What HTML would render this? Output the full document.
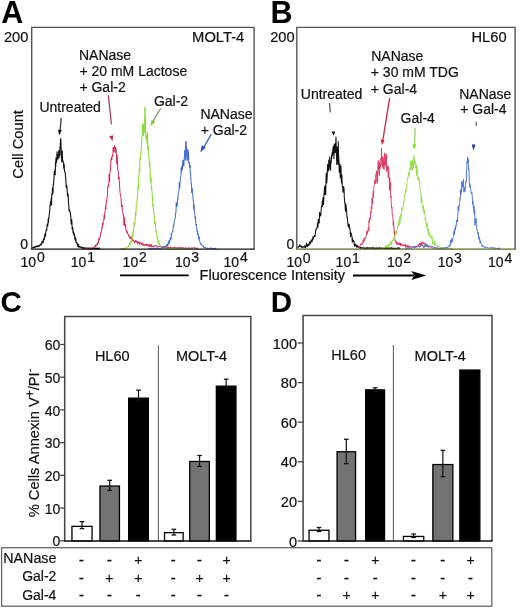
<!DOCTYPE html>
<html><head><meta charset="utf-8"><style>
html,body{margin:0;padding:0;background:#fff;}
body{width:520px;height:608px;overflow:hidden;font-family:"Liberation Sans", sans-serif;}
svg{display:block;will-change:transform;}
</style></head><body>
<svg width="520" height="608" viewBox="0 0 520 608" font-family='"Liberation Sans", sans-serif'>
<rect width="520" height="608" fill="#ffffff"/>
<text x="1.2" y="22.5" font-size="30.5" text-anchor="start" font-weight="bold" fill="#000" >A</text>
<path d="M32.00,248.3 L32.25,247.5 L32.50,247.5 L32.75,247.9 L33.00,247.6 L33.25,247.6 L33.50,247.3 L33.75,247.1 L34.00,247.7 L34.25,247.6 L34.50,246.8 L34.75,247.1 L35.00,246.7 L35.25,247.3 L35.50,246.8 L35.75,246.4 L36.00,246.8 L36.25,246.0 L36.50,246.0 L36.75,246.8 L37.00,246.7 L37.25,246.1 L37.50,246.0 L37.75,246.6 L38.00,246.2 L38.25,245.6 L38.50,245.7 L38.75,245.9 L39.00,246.6 L39.25,245.5 L39.50,245.6 L39.75,245.0 L40.00,245.1 L40.25,244.3 L40.50,244.9 L40.75,244.5 L41.00,243.9 L41.25,245.0 L41.50,244.2 L41.75,243.9 L42.00,241.3 L42.25,242.8 L42.50,241.6 L42.75,241.2 L43.00,241.6 L43.25,242.4 L43.50,239.1 L43.75,240.0 L44.00,238.0 L44.25,239.8 L44.50,238.0 L44.75,235.0 L45.00,233.8 L45.25,236.7 L45.50,235.9 L45.75,233.0 L46.00,230.8 L46.25,230.6 L46.50,229.2 L46.75,230.2 L47.00,226.3 L47.25,224.0 L47.50,225.5 L47.75,226.0 L48.00,223.3 L48.25,218.8 L48.50,222.4 L48.75,217.4 L49.00,217.8 L49.25,214.3 L49.50,212.8 L49.75,210.5 L50.00,205.1 L50.25,205.9 L50.50,201.7 L50.75,203.5 L51.00,202.5 L51.25,198.3 L51.50,205.0 L51.75,195.5 L52.00,193.0 L52.25,195.0 L52.50,188.1 L52.75,189.2 L53.00,192.9 L53.25,184.2 L53.50,184.6 L53.75,181.3 L54.00,178.3 L54.25,171.9 L54.50,173.7 L54.75,172.4 L55.00,169.2 L55.25,174.7 L55.50,161.8 L55.75,166.4 L56.00,157.9 L56.25,162.3 L56.50,162.3 L56.75,160.6 L57.00,151.9 L57.25,155.2 L57.50,158.9 L57.75,156.8 L58.00,159.2 L58.25,154.4 L58.50,155.8 L58.75,150.5 L59.00,157.7 L59.25,153.7 L59.50,155.3 L59.75,154.3 L60.00,147.1 L60.25,145.4 L60.50,140.0 L60.75,138.6 L61.00,143.6 L61.25,157.3 L61.50,152.5 L61.75,162.0 L62.00,156.8 L62.25,150.7 L62.50,159.4 L62.75,161.3 L63.00,160.7 L63.25,162.6 L63.50,164.1 L63.75,168.3 L64.00,163.7 L64.25,166.0 L64.50,171.5 L64.75,171.5 L65.00,172.3 L65.25,173.0 L65.50,177.0 L65.75,178.0 L66.00,183.0 L66.25,187.4 L66.50,187.7 L66.75,185.3 L67.00,187.5 L67.25,191.9 L67.50,195.9 L67.75,195.5 L68.00,193.9 L68.25,196.8 L68.50,204.1 L68.75,204.4 L69.00,209.8 L69.25,210.8 L69.50,209.5 L69.75,211.7 L70.00,211.4 L70.25,212.5 L70.50,215.1 L70.75,215.8 L71.00,221.2 L71.25,223.9 L71.50,222.2 L71.75,219.6 L72.00,225.3 L72.25,229.3 L72.50,228.2 L72.75,227.5 L73.00,232.6 L73.25,230.9 L73.50,234.1 L73.75,232.3 L74.00,234.1 L74.25,235.7 L74.50,234.4 L74.75,238.3 L75.00,239.4 L75.25,237.2 L75.50,241.0 L75.75,238.3 L76.00,241.3 L76.25,242.9 L76.50,242.4 L76.75,242.8 L77.00,243.2 L77.25,244.0 L77.50,243.4 L77.75,246.5 L78.00,245.5 L78.25,245.6 L78.50,244.4 L78.75,247.3 L79.00,246.4 L79.25,247.2 L79.50,246.3 L79.75,246.6 L80.00,246.9 L80.25,246.6 L80.50,247.0 L80.75,247.4 L81.00,247.6 L81.25,247.2 L81.50,247.7 L81.75,247.6 L82.00,247.8 L82.25,247.4 L82.50,247.4 L82.75,248.4 L83.00,248.3 L83.25,248.2 L83.50,247.6 L83.75,247.9 L84.00,248.3 L84.25,248.5 L84.50,248.1 L84.75,247.9 L85.00,247.9 L85.25,248.5 L85.50,248.0 L85.75,248.2 L86.00,248.4 L86.25,247.9 L86.50,248.7 L86.75,248.2 L87.00,248.8 L87.25,248.8 L87.50,248.0 L87.75,248.7 L88.00,248.2 L88.25,248.4 L88.50,248.1 L88.75,248.6 L89.00,248.6 L89.25,248.7 L89.50,248.1 L89.75,248.4 L90.00,248.1 L90.25,248.1 L90.50,248.9 L90.75,248.5 L91.00,248.9 L91.25,249.0 L91.50,248.9 L91.75,248.1 L92.00,248.2 L92.25,248.2 L92.50,248.7 L92.75,248.4 L93.00,248.2 L93.25,248.6 L93.50,248.4 L93.75,248.8 L94.00,248.9 L94.25,248.7 L94.50,248.1 L94.75,248.4 L95.00,248.1 L95.25,248.6 L95.50,248.7 L95.75,248.2 L96.00,248.2 L96.25,249.0 L96.50,248.3 L96.75,248.9 L97.00,248.9 L97.25,248.1 L97.50,249.0 L97.75,248.8 L98.00,248.0 L98.25,248.6 L98.50,248.9 L98.75,248.8 L99.00,248.8 L99.25,248.3 L99.50,248.9 L99.75,248.1 L100.00,248.6" fill="none" stroke="#111111" stroke-width="1.1" stroke-linejoin="round" opacity="1"/>
<path d="M85.00,248.0 L85.25,248.0 L85.50,248.9 L85.75,248.9 L86.00,248.1 L86.25,248.2 L86.50,248.3 L86.75,248.7 L87.00,248.3 L87.25,248.3 L87.50,248.4 L87.75,248.8 L88.00,248.5 L88.25,248.5 L88.50,248.2 L88.75,247.9 L89.00,247.9 L89.25,248.3 L89.50,248.4 L89.75,248.5 L90.00,248.8 L90.25,248.7 L90.50,248.3 L90.75,248.4 L91.00,248.3 L91.25,247.7 L91.50,248.0 L91.75,247.9 L92.00,248.2 L92.25,248.3 L92.50,248.0 L92.75,248.1 L93.00,247.6 L93.25,247.0 L93.50,247.2 L93.75,247.5 L94.00,246.6 L94.25,246.6 L94.50,246.5 L94.75,246.1 L95.00,246.0 L95.25,245.7 L95.50,247.2 L95.75,244.7 L96.00,245.3 L96.25,245.4 L96.50,244.9 L96.75,245.7 L97.00,245.0 L97.25,243.4 L97.50,245.0 L97.75,242.5 L98.00,243.7 L98.25,241.5 L98.50,242.0 L98.75,238.5 L99.00,238.5 L99.25,239.4 L99.50,240.2 L99.75,238.2 L100.00,236.5 L100.25,236.8 L100.50,234.2 L100.75,232.3 L101.00,232.7 L101.25,232.2 L101.50,229.3 L101.75,229.8 L102.00,226.9 L102.25,227.5 L102.50,223.1 L102.75,225.0 L103.00,225.0 L103.25,221.7 L103.50,221.6 L103.75,220.8 L104.00,217.9 L104.25,214.7 L104.50,218.9 L104.75,213.2 L105.00,211.8 L105.25,210.2 L105.50,206.5 L105.75,209.4 L106.00,203.3 L106.25,203.6 L106.50,201.0 L106.75,200.0 L107.00,198.4 L107.25,197.1 L107.50,192.8 L107.75,186.6 L108.00,187.3 L108.25,185.8 L108.50,184.5 L108.75,185.4 L109.00,180.4 L109.25,174.2 L109.50,181.7 L109.75,173.6 L110.00,171.0 L110.25,171.2 L110.50,167.7 L110.75,163.9 L111.00,159.4 L111.25,160.3 L111.50,157.4 L111.75,159.8 L112.00,156.5 L112.25,157.0 L112.50,155.2 L112.75,156.2 L113.00,151.2 L113.25,147.4 L113.50,151.7 L113.75,149.5 L114.00,147.5 L114.25,148.9 L114.50,145.4 L114.75,147.5 L115.00,152.5 L115.25,152.6 L115.50,147.6 L115.75,149.0 L116.00,148.8 L116.25,153.2 L116.50,155.2 L116.75,162.8 L117.00,155.4 L117.25,165.0 L117.50,161.2 L117.75,170.3 L118.00,171.3 L118.25,171.4 L118.50,175.7 L118.75,179.1 L119.00,177.2 L119.25,180.5 L119.50,183.9 L119.75,188.4 L120.00,192.2 L120.25,193.7 L120.50,196.2 L120.75,197.3 L121.00,197.6 L121.25,202.0 L121.50,205.5 L121.75,207.0 L122.00,204.8 L122.25,209.0 L122.50,210.6 L122.75,212.2 L123.00,213.2 L123.25,215.6 L123.50,215.1 L123.75,217.2 L124.00,225.1 L124.25,221.5 L124.50,217.3 L124.75,225.7 L125.00,224.5 L125.25,224.0 L125.50,226.7 L125.75,225.6 L126.00,230.4 L126.25,231.2 L126.50,230.4 L126.75,232.0 L127.00,233.1 L127.25,231.5 L127.50,232.6 L127.75,233.5 L128.00,234.6 L128.25,234.3 L128.50,235.3 L128.75,236.5 L129.00,235.4 L129.25,236.0 L129.50,236.7 L129.75,236.4 L130.00,238.8 L130.25,238.0 L130.50,238.7 L130.75,236.9 L131.00,238.1 L131.25,236.7 L131.50,237.5 L131.75,239.7 L132.00,240.7 L132.25,239.3 L132.50,240.2 L132.75,240.3 L133.00,241.3 L133.25,239.8 L133.50,240.4 L133.75,240.3 L134.00,240.6 L134.25,241.9 L134.50,243.2 L134.75,241.5 L135.00,242.0 L135.25,242.0 L135.50,240.7 L135.75,241.8 L136.00,240.5 L136.25,241.8 L136.50,241.4 L136.75,241.7 L137.00,241.5 L137.25,243.4 L137.50,241.5 L137.75,242.4 L138.00,243.4 L138.25,242.2 L138.50,242.5 L138.75,241.8 L139.00,242.4 L139.25,242.8 L139.50,244.4 L139.75,241.9 L140.00,242.1 L140.25,242.8 L140.50,243.1 L140.75,242.6 L141.00,244.3 L141.25,243.1 L141.50,243.7 L141.75,244.6 L142.00,243.6 L142.25,243.7 L142.50,242.8 L142.75,243.4 L143.00,245.3 L143.25,245.7 L143.50,244.4 L143.75,244.5 L144.00,245.1 L144.25,245.5 L144.50,244.7 L144.75,245.4 L145.00,245.1 L145.25,244.1 L145.50,244.6 L145.75,245.4 L146.00,245.7 L146.25,245.1 L146.50,243.9 L146.75,245.4 L147.00,244.0 L147.25,245.7 L147.50,245.4 L147.75,244.8 L148.00,245.8 L148.25,245.3 L148.50,246.3 L148.75,245.1 L149.00,244.8 L149.25,246.0 L149.50,245.5 L149.75,245.9 L150.00,247.0 L150.25,244.1 L150.50,245.4 L150.75,245.4 L151.00,245.7 L151.25,245.8 L151.50,244.6 L151.75,247.1 L152.00,246.2 L152.25,246.3 L152.50,246.2 L152.75,245.8 L153.00,246.6 L153.25,247.0 L153.50,246.9 L153.75,246.1 L154.00,245.8 L154.25,246.0 L154.50,245.6 L154.75,246.4 L155.00,246.0 L155.25,245.8 L155.50,246.3 L155.75,245.7 L156.00,246.2 L156.25,245.9 L156.50,246.3 L156.75,245.7 L157.00,246.0 L157.25,246.2 L157.50,246.7 L157.75,246.4 L158.00,246.8 L158.25,246.3 L158.50,246.0 L158.75,246.8 L159.00,246.5 L159.25,246.5 L159.50,246.6 L159.75,246.3 L160.00,246.1 L160.25,246.4 L160.50,246.7 L160.75,246.2 L161.00,246.9 L161.25,246.5 L161.50,246.6 L161.75,246.5 L162.00,246.4 L162.25,247.1 L162.50,246.7 L162.75,247.0 L163.00,246.7 L163.25,246.4 L163.50,246.8 L163.75,247.4 L164.00,247.0 L164.25,246.8 L164.50,246.6 L164.75,246.9 L165.00,246.7 L165.25,247.6 L165.50,246.6 L165.75,246.9 L166.00,247.0 L166.25,246.7 L166.50,246.8 L166.75,247.6 L167.00,246.9 L167.25,246.9 L167.50,247.5 L167.75,247.0 L168.00,247.2 L168.25,247.6 L168.50,247.0 L168.75,247.7 L169.00,247.2 L169.25,247.4 L169.50,247.6 L169.75,247.3 L170.00,247.4 L170.25,247.7 L170.50,246.9 L170.75,247.9 L171.00,248.0 L171.25,247.5 L171.50,247.1 L171.75,247.3 L172.00,247.2 L172.25,247.5 L172.50,247.4 L172.75,247.7 L173.00,247.8 L173.25,247.6 L173.50,248.1 L173.75,248.0 L174.00,247.4 L174.25,248.0 L174.50,247.4 L174.75,247.4 L175.00,247.8 L175.25,247.5 L175.50,247.4 L175.75,247.3 L176.00,248.1 L176.25,248.1 L176.50,247.8 L176.75,247.8 L177.00,248.0 L177.25,248.3 L177.50,247.7 L177.75,247.3 L178.00,247.9 L178.25,247.8 L178.50,247.9 L178.75,247.9 L179.00,247.4 L179.25,248.0 L179.50,247.7 L179.75,247.9 L180.00,247.8 L180.25,247.4 L180.50,248.3 L180.75,247.6 L181.00,248.1 L181.25,247.7 L181.50,247.6 L181.75,247.8 L182.00,248.0 L182.25,247.6 L182.50,248.4 L182.75,247.8 L183.00,248.1 L183.25,247.9 L183.50,247.6 L183.75,247.7 L184.00,247.9 L184.25,248.2 L184.50,248.3 L184.75,248.0 L185.00,248.3 L185.25,248.2 L185.50,247.6 L185.75,248.4 L186.00,247.7 L186.25,248.2 L186.50,248.2 L186.75,248.2 L187.00,248.5 L187.25,248.1 L187.50,248.4 L187.75,248.1 L188.00,248.3 L188.25,247.7 L188.50,247.7 L188.75,248.2 L189.00,248.0 L189.25,247.7 L189.50,248.3 L189.75,248.5 L190.00,248.4 L190.25,248.4 L190.50,248.0 L190.75,248.3 L191.00,248.3 L191.25,247.8 L191.50,248.4 L191.75,247.8 L192.00,248.0 L192.25,248.3 L192.50,247.8 L192.75,248.3 L193.00,247.8 L193.25,247.8 L193.50,248.2 L193.75,248.0 L194.00,247.7 L194.25,248.0 L194.50,247.9 L194.75,247.8 L195.00,247.8 L195.25,248.0 L195.50,247.7 L195.75,248.4 L196.00,248.1 L196.25,248.1 L196.50,248.4 L196.75,248.3 L197.00,248.6 L197.25,247.8 L197.50,248.4 L197.75,248.3 L198.00,247.9" fill="none" stroke="#d8234f" stroke-width="1.0" stroke-linejoin="round" opacity="1"/>
<path d="M120.00,248.8 L120.25,248.6 L120.50,248.7 L120.75,248.5 L121.00,248.5 L121.25,248.9 L121.50,249.0 L121.75,248.3 L122.00,248.7 L122.25,248.8 L122.50,248.1 L122.75,248.5 L123.00,248.2 L123.25,248.5 L123.50,248.4 L123.75,248.7 L124.00,248.3 L124.25,248.1 L124.50,248.3 L124.75,248.1 L125.00,248.1 L125.25,248.5 L125.50,247.9 L125.75,248.0 L126.00,248.1 L126.25,248.3 L126.50,247.5 L126.75,247.7 L127.00,247.4 L127.25,247.1 L127.50,247.0 L127.75,246.7 L128.00,246.9 L128.25,246.3 L128.50,246.4 L128.75,245.3 L129.00,246.6 L129.25,245.4 L129.50,245.1 L129.75,244.5 L130.00,242.4 L130.25,245.0 L130.50,242.8 L130.75,243.0 L131.00,240.9 L131.25,242.0 L131.50,239.8 L131.75,240.9 L132.00,239.4 L132.25,236.0 L132.50,237.6 L132.75,232.8 L133.00,235.3 L133.25,230.4 L133.50,231.3 L133.75,228.0 L134.00,225.1 L134.25,222.5 L134.50,225.4 L134.75,225.4 L135.00,221.9 L135.25,217.4 L135.50,212.2 L135.75,215.5 L136.00,212.3 L136.25,204.6 L136.50,204.5 L136.75,202.6 L137.00,201.0 L137.25,197.3 L137.50,198.0 L137.75,190.9 L138.00,187.3 L138.25,185.5 L138.50,189.4 L138.75,175.9 L139.00,175.8 L139.25,168.9 L139.50,169.3 L139.75,171.2 L140.00,158.4 L140.25,157.5 L140.50,159.3 L140.75,152.8 L141.00,153.2 L141.25,146.0 L141.50,145.2 L141.75,140.9 L142.00,136.6 L142.25,135.0 L142.50,124.6 L142.75,129.5 L143.00,132.1 L143.25,131.4 L143.50,135.7 L143.75,123.7 L144.00,133.2 L144.25,131.7 L144.50,118.5 L144.75,118.0 L145.00,107.2 L145.25,116.7 L145.50,125.6 L145.75,136.6 L146.00,139.0 L146.25,138.2 L146.50,135.4 L146.75,137.3 L147.00,141.4 L147.25,143.8 L147.50,132.2 L147.75,149.5 L148.00,147.7 L148.25,145.6 L148.50,151.8 L148.75,155.5 L149.00,158.0 L149.25,164.3 L149.50,166.8 L149.75,162.0 L150.00,167.8 L150.25,177.5 L150.50,174.7 L150.75,181.8 L151.00,178.1 L151.25,185.1 L151.50,188.7 L151.75,187.1 L152.00,192.5 L152.25,194.9 L152.50,200.3 L152.75,205.9 L153.00,204.4 L153.25,208.9 L153.50,208.4 L153.75,213.8 L154.00,213.3 L154.25,219.0 L154.50,220.7 L154.75,224.2 L155.00,221.4 L155.25,223.2 L155.50,227.0 L155.75,229.2 L156.00,232.0 L156.25,231.6 L156.50,230.8 L156.75,234.7 L157.00,235.1 L157.25,239.0 L157.50,237.4 L157.75,238.3 L158.00,239.5 L158.25,242.0 L158.50,240.0 L158.75,244.2 L159.00,242.4 L159.25,243.3 L159.50,243.6 L159.75,245.7 L160.00,246.4 L160.25,246.1 L160.50,245.8 L160.75,245.7 L161.00,246.4 L161.25,246.2 L161.50,246.5 L161.75,247.2 L162.00,247.3 L162.25,247.1 L162.50,247.4 L162.75,247.4 L163.00,247.9 L163.25,248.1 L163.50,248.1 L163.75,247.8 L164.00,248.3 L164.25,248.3 L164.50,248.3 L164.75,248.3 L165.00,248.4 L165.25,248.0 L165.50,248.7 L165.75,248.8 L166.00,248.1 L166.25,248.2 L166.50,248.1 L166.75,248.6 L167.00,248.2 L167.25,248.2 L167.50,248.8 L167.75,248.4 L168.00,248.3 L168.25,248.4 L168.50,248.6 L168.75,248.7 L169.00,248.7 L169.25,248.8 L169.50,248.9 L169.75,248.5 L170.00,248.8 L170.25,248.3 L170.50,249.0 L170.75,248.3 L171.00,248.4 L171.25,248.3 L171.50,248.3 L171.75,248.3 L172.00,248.5 L172.25,249.0 L172.50,248.4 L172.75,248.9 L173.00,248.8 L173.25,248.5 L173.50,248.6 L173.75,248.7 L174.00,248.3 L174.25,248.5 L174.50,248.7 L174.75,248.8 L175.00,248.3 L175.25,248.6 L175.50,248.4 L175.75,248.7 L176.00,248.8 L176.25,248.6 L176.50,248.3 L176.75,248.9 L177.00,248.4 L177.25,248.3 L177.50,248.4 L177.75,248.3 L178.00,249.0 L178.25,248.5 L178.50,248.3 L178.75,249.0 L179.00,248.8 L179.25,248.8 L179.50,248.6 L179.75,248.7 L180.00,248.6 L180.25,248.4 L180.50,249.0 L180.75,249.0 L181.00,248.9 L181.25,248.9 L181.50,248.9 L181.75,248.2 L182.00,248.3 L182.25,248.9 L182.50,248.6 L182.75,248.7 L183.00,248.7 L183.25,248.7 L183.50,248.5 L183.75,248.5 L184.00,248.7 L184.25,248.8 L184.50,248.7 L184.75,248.9 L185.00,248.6 L185.25,248.4 L185.50,248.7 L185.75,248.9 L186.00,248.9" fill="none" stroke="#86dc2c" stroke-width="1.0" stroke-linejoin="round" opacity="1"/>
<path d="M148.00,248.7 L148.25,248.9 L148.50,248.5 L148.75,248.8 L149.00,248.9 L149.25,248.5 L149.50,247.9 L149.75,248.0 L150.00,248.1 L150.25,248.7 L150.50,248.4 L150.75,248.7 L151.00,248.8 L151.25,248.9 L151.50,248.7 L151.75,247.9 L152.00,248.0 L152.25,248.0 L152.50,248.0 L152.75,248.8 L153.00,248.6 L153.25,248.2 L153.50,248.1 L153.75,248.0 L154.00,247.9 L154.25,248.9 L154.50,248.3 L154.75,248.2 L155.00,248.4 L155.25,248.8 L155.50,248.4 L155.75,248.9 L156.00,247.9 L156.25,247.9 L156.50,248.3 L156.75,248.6 L157.00,247.9 L157.25,248.3 L157.50,247.9 L157.75,247.9 L158.00,248.3 L158.25,248.4 L158.50,248.2 L158.75,248.4 L159.00,248.7 L159.25,248.5 L159.50,247.9 L159.75,248.7 L160.00,248.7 L160.25,248.0 L160.50,248.4 L160.75,248.1 L161.00,248.1 L161.25,248.2 L161.50,247.4 L161.75,248.3 L162.00,248.0 L162.25,248.2 L162.50,247.6 L162.75,247.9 L163.00,247.8 L163.25,247.2 L163.50,247.6 L163.75,247.2 L164.00,246.7 L164.25,247.5 L164.50,247.5 L164.75,247.1 L165.00,246.3 L165.25,246.3 L165.50,246.6 L165.75,246.3 L166.00,246.1 L166.25,245.6 L166.50,245.0 L166.75,245.4 L167.00,244.0 L167.25,246.2 L167.50,244.9 L167.75,246.4 L168.00,243.3 L168.25,243.5 L168.50,241.6 L168.75,243.0 L169.00,244.2 L169.25,240.3 L169.50,242.5 L169.75,241.9 L170.00,240.1 L170.25,238.4 L170.50,239.1 L170.75,237.5 L171.00,239.4 L171.25,233.8 L171.50,235.4 L171.75,234.2 L172.00,232.5 L172.25,232.2 L172.50,231.1 L172.75,231.8 L173.00,229.4 L173.25,227.2 L173.50,224.9 L173.75,225.7 L174.00,224.0 L174.25,222.2 L174.50,220.3 L174.75,219.6 L175.00,219.1 L175.25,218.1 L175.50,213.0 L175.75,213.2 L176.00,212.2 L176.25,202.4 L176.50,206.7 L176.75,205.0 L177.00,204.9 L177.25,206.1 L177.50,198.8 L177.75,200.1 L178.00,197.9 L178.25,193.4 L178.50,191.5 L178.75,191.8 L179.00,190.5 L179.25,182.5 L179.50,185.1 L179.75,188.1 L180.00,180.8 L180.25,180.9 L180.50,179.4 L180.75,175.6 L181.00,175.3 L181.25,167.8 L181.50,172.1 L181.75,170.3 L182.00,165.7 L182.25,170.0 L182.50,163.2 L182.75,165.5 L183.00,159.9 L183.25,165.8 L183.50,160.2 L183.75,166.3 L184.00,161.3 L184.25,158.7 L184.50,156.2 L184.75,150.2 L185.00,149.9 L185.25,160.4 L185.50,155.6 L185.75,142.9 L186.00,141.2 L186.25,148.7 L186.50,146.6 L186.75,157.1 L187.00,158.2 L187.25,160.6 L187.50,157.6 L187.75,149.3 L188.00,157.0 L188.25,159.8 L188.50,151.7 L188.75,163.1 L189.00,162.5 L189.25,163.4 L189.50,162.5 L189.75,167.9 L190.00,165.0 L190.25,173.4 L190.50,172.8 L190.75,176.1 L191.00,181.7 L191.25,184.3 L191.50,183.7 L191.75,192.8 L192.00,188.2 L192.25,190.4 L192.50,192.6 L192.75,195.6 L193.00,196.8 L193.25,201.0 L193.50,200.7 L193.75,208.8 L194.00,204.7 L194.25,211.2 L194.50,210.1 L194.75,214.4 L195.00,216.3 L195.25,219.1 L195.50,216.5 L195.75,223.3 L196.00,225.2 L196.25,224.2 L196.50,225.8 L196.75,227.7 L197.00,230.9 L197.25,231.8 L197.50,230.6 L197.75,234.9 L198.00,233.6 L198.25,234.7 L198.50,236.5 L198.75,239.3 L199.00,236.3 L199.25,239.4 L199.50,240.1 L199.75,241.5 L200.00,242.8 L200.25,242.7 L200.50,242.9 L200.75,244.4 L201.00,244.0 L201.25,243.7 L201.50,244.7 L201.75,245.5 L202.00,245.1 L202.25,245.6 L202.50,245.9 L202.75,246.2 L203.00,245.9 L203.25,246.3 L203.50,247.3 L203.75,246.5 L204.00,247.5 L204.25,247.5 L204.50,247.0 L204.75,247.6 L205.00,247.3 L205.25,248.1 L205.50,247.4 L205.75,248.3 L206.00,248.4 L206.25,248.0 L206.50,248.3 L206.75,248.1 L207.00,247.7 L207.25,247.9 L207.50,248.8 L207.75,248.5 L208.00,248.2 L208.25,248.3 L208.50,248.0 L208.75,248.3 L209.00,248.8 L209.25,248.6 L209.50,247.9 L209.75,248.5 L210.00,248.0 L210.25,247.8 L210.50,248.2 L210.75,248.2 L211.00,248.3 L211.25,248.6 L211.50,247.9 L211.75,248.4 L212.00,247.9 L212.25,248.6 L212.50,248.0 L212.75,248.1 L213.00,248.3 L213.25,248.5 L213.50,248.8 L213.75,248.1 L214.00,248.6 L214.25,248.2 L214.50,248.8 L214.75,248.9 L215.00,248.8 L215.25,248.0 L215.50,248.8 L215.75,247.9 L216.00,248.6" fill="none" stroke="#3a68d4" stroke-width="1.0" stroke-linejoin="round" opacity="1"/>
<path d="M31.7,249 L31.7,27.4 L254.1,27.4 L254.1,249" fill="none" stroke="#555" stroke-width="1.4"/>
<line x1="31" y1="249.1" x2="254.8" y2="249.1" stroke="#111" stroke-width="1.2" stroke-linecap="butt"/>
<text transform="translate(28.3,42.1) scale(1.045,1)" font-size="14" text-anchor="end" font-weight="normal" fill="#111" stroke="#111" stroke-width="0.2" >200</text>
<text x="28" y="249.4" font-size="14" text-anchor="end" font-weight="normal" fill="#111" stroke="#111" stroke-width="0.2" >0</text>
<text transform="translate(244.3,41.7) scale(1.055,1)" font-size="14" text-anchor="end" font-weight="normal" fill="#111" stroke="#111" stroke-width="0.2" >MOLT-4</text>
<text x="23" y="144.4" font-size="14.7" text-anchor="middle" fill="#111" stroke="#111" stroke-width="0.2" transform="rotate(-90 23 144.4)">Cell Count</text>
<text x="79" y="59.6" font-size="14" text-anchor="start" font-weight="normal" fill="#111" stroke="#111" stroke-width="0.2" >NANase</text>
<text x="79.4" y="75.9" font-size="14" text-anchor="start" font-weight="normal" fill="#111" stroke="#111" stroke-width="0.2" >+ 20 mM Lactose</text>
<text x="79.4" y="92.1" font-size="14" text-anchor="start" font-weight="normal" fill="#111" stroke="#111" stroke-width="0.2" >+ Gal-2</text>
<text x="39.4" y="111.5" font-size="14" text-anchor="start" font-weight="normal" fill="#111" stroke="#111" stroke-width="0.2" >Untreated</text>
<text x="153.9" y="105.6" font-size="14" text-anchor="start" font-weight="normal" fill="#111" stroke="#111" stroke-width="0.2" >Gal-2</text>
<text x="200.4" y="119.0" font-size="14" text-anchor="start" font-weight="normal" fill="#111" stroke="#111" stroke-width="0.2" >NANase</text>
<text x="200.7" y="135.1" font-size="14" text-anchor="start" font-weight="normal" fill="#111" stroke="#111" stroke-width="0.2" >+ Gal-2</text>
<line x1="61.1" y1="118.5" x2="60.1" y2="130.5" stroke="#444" stroke-width="1.4" stroke-linecap="round"/>
<path d="M59.3,135.4 L58.0,129.7 L61.8,130.1 Z" fill="#111"/>
<line x1="108.4" y1="95.6" x2="111.4" y2="124" stroke="#b03050" stroke-width="1.2" stroke-linecap="round"/>
<path d="M112.6,141.3 L109.3,136.3 L113.1,135.3 Z" fill="#c8203f"/>
<line x1="160.5" y1="108.6" x2="152.6" y2="122" stroke="#789860" stroke-width="1.2" stroke-linecap="round"/>
<path d="M150.4,126.2 L151.7,120.0 L155.1,122.0 Z" fill="#7ad020"/>
<line x1="211" y1="134.6" x2="203.6" y2="147.6" stroke="#4060c0" stroke-width="1.3" stroke-linecap="round"/>
<path d="M200.2,152.6 L201.9,145.3 L205.7,147.5 Z" fill="#2a48c0"/>
<text x="20.5" y="266.5" font-size="14" text-anchor="start" font-weight="normal" fill="#111" stroke="#111" stroke-width="0.2" >10</text>
<text x="36.9" y="262.3" font-size="14" text-anchor="start" font-weight="normal" fill="#111" stroke="#111" stroke-width="0.2" >0</text>
<text x="70.8" y="266.5" font-size="14" text-anchor="start" font-weight="normal" fill="#111" stroke="#111" stroke-width="0.2" >10</text>
<text x="87.19999999999999" y="262.3" font-size="14" text-anchor="start" font-weight="normal" fill="#111" stroke="#111" stroke-width="0.2" >1</text>
<text x="122.6" y="266.5" font-size="14" text-anchor="start" font-weight="normal" fill="#111" stroke="#111" stroke-width="0.2" >10</text>
<text x="139.0" y="262.3" font-size="14" text-anchor="start" font-weight="normal" fill="#111" stroke="#111" stroke-width="0.2" >2</text>
<text x="174.9" y="266.5" font-size="14" text-anchor="start" font-weight="normal" fill="#111" stroke="#111" stroke-width="0.2" >10</text>
<text x="191.3" y="262.3" font-size="14" text-anchor="start" font-weight="normal" fill="#111" stroke="#111" stroke-width="0.2" >3</text>
<text x="223.5" y="266.5" font-size="14" text-anchor="start" font-weight="normal" fill="#111" stroke="#111" stroke-width="0.2" >10</text>
<text x="239.9" y="262.3" font-size="14" text-anchor="start" font-weight="normal" fill="#111" stroke="#111" stroke-width="0.2" >4</text>
<line x1="120" y1="275.4" x2="188.7" y2="275.4" stroke="#000" stroke-width="1.7" stroke-linecap="butt"/>
<text transform="translate(199.6,280.3) scale(1.04,1)" font-size="14" text-anchor="start" font-weight="normal" fill="#111" stroke="#111" stroke-width="0.2" >Fluorescence Intensity</text>
<line x1="353" y1="275.5" x2="414" y2="275.5" stroke="#000" stroke-width="1.8" stroke-linecap="butt"/>
<path d="M426.2,275.5 L411.2,270.9 L414.6,275.5 L411.2,280.1 Z" fill="#000"/>
<text x="270.6" y="22.8" font-size="30.5" text-anchor="start" font-weight="bold" fill="#000" >B</text>
<path d="M297.50,247.9 L297.75,247.6 L298.00,246.8 L298.25,247.1 L298.50,246.5 L298.75,246.9 L299.00,246.1 L299.25,246.6 L299.50,245.1 L299.75,244.8 L300.00,245.6 L300.25,245.8 L300.50,246.0 L300.75,245.7 L301.00,246.3 L301.25,247.4 L301.50,246.3 L301.75,246.4 L302.00,246.8 L302.25,246.8 L302.50,247.3 L302.75,247.4 L303.00,246.7 L303.25,247.2 L303.50,246.9 L303.75,246.8 L304.00,247.0 L304.25,246.3 L304.50,246.2 L304.75,245.6 L305.00,247.7 L305.25,246.6 L305.50,247.6 L305.75,246.3 L306.00,246.8 L306.25,245.9 L306.50,243.1 L306.75,245.8 L307.00,244.9 L307.25,246.7 L307.50,245.6 L307.75,244.5 L308.00,245.1 L308.25,244.4 L308.50,244.5 L308.75,245.5 L309.00,243.6 L309.25,244.9 L309.50,241.7 L309.75,244.1 L310.00,242.4 L310.25,243.0 L310.50,241.5 L310.75,243.2 L311.00,240.8 L311.25,241.9 L311.50,239.7 L311.75,240.2 L312.00,240.5 L312.25,241.4 L312.50,238.8 L312.75,238.8 L313.00,236.5 L313.25,239.2 L313.50,237.2 L313.75,236.7 L314.00,236.6 L314.25,236.1 L314.50,235.6 L314.75,236.4 L315.00,236.6 L315.25,234.8 L315.50,232.2 L315.75,229.7 L316.00,230.0 L316.25,229.0 L316.50,228.8 L316.75,228.1 L317.00,228.4 L317.25,226.2 L317.50,223.0 L317.75,226.9 L318.00,226.9 L318.25,219.5 L318.50,222.7 L318.75,219.8 L319.00,219.0 L319.25,223.1 L319.50,212.6 L319.75,213.1 L320.00,216.3 L320.25,213.5 L320.50,214.1 L320.75,215.8 L321.00,212.3 L321.25,209.6 L321.50,206.0 L321.75,205.9 L322.00,206.6 L322.25,201.1 L322.50,206.5 L322.75,200.0 L323.00,197.5 L323.25,200.8 L323.50,204.6 L323.75,200.1 L324.00,194.7 L324.25,192.1 L324.50,186.9 L324.75,194.8 L325.00,189.6 L325.25,185.7 L325.50,187.3 L325.75,194.4 L326.00,180.5 L326.25,173.0 L326.50,176.7 L326.75,183.0 L327.00,179.6 L327.25,175.5 L327.50,164.6 L327.75,171.0 L328.00,171.8 L328.25,164.2 L328.50,169.9 L328.75,160.1 L329.00,170.0 L329.25,167.8 L329.50,161.3 L329.75,156.9 L330.00,161.1 L330.25,161.6 L330.50,170.2 L330.75,164.1 L331.00,162.7 L331.25,161.4 L331.50,155.4 L331.75,158.8 L332.00,152.7 L332.25,154.9 L332.50,155.2 L332.75,150.9 L333.00,148.0 L333.25,146.2 L333.50,153.8 L333.75,153.2 L334.00,158.6 L334.25,144.1 L334.50,144.5 L334.75,151.9 L335.00,151.9 L335.25,152.8 L335.50,143.2 L335.75,143.5 L336.00,137.0 L336.25,149.4 L336.50,155.8 L336.75,164.5 L337.00,146.7 L337.25,153.2 L337.50,162.5 L337.75,154.9 L338.00,164.2 L338.25,141.5 L338.50,153.6 L338.75,157.3 L339.00,162.0 L339.25,172.2 L339.50,164.4 L339.75,172.2 L340.00,164.1 L340.25,177.7 L340.50,173.8 L340.75,166.3 L341.00,166.2 L341.25,179.8 L341.50,183.0 L341.75,174.8 L342.00,176.7 L342.25,185.9 L342.50,186.6 L342.75,188.4 L343.00,192.1 L343.25,191.9 L343.50,186.6 L343.75,190.6 L344.00,187.5 L344.25,197.0 L344.50,199.0 L344.75,203.7 L345.00,202.6 L345.25,208.2 L345.50,211.4 L345.75,205.2 L346.00,204.6 L346.25,208.2 L346.50,208.4 L346.75,213.2 L347.00,217.5 L347.25,216.7 L347.50,219.5 L347.75,222.8 L348.00,225.6 L348.25,226.4 L348.50,224.0 L348.75,224.9 L349.00,227.6 L349.25,224.4 L349.50,228.4 L349.75,228.6 L350.00,228.4 L350.25,233.6 L350.50,236.8 L350.75,232.4 L351.00,236.0 L351.25,233.3 L351.50,235.8 L351.75,235.5 L352.00,236.7 L352.25,241.9 L352.50,238.2 L352.75,240.9 L353.00,241.6 L353.25,241.7 L353.50,240.6 L353.75,241.0 L354.00,241.4 L354.25,245.1 L354.50,244.2 L354.75,246.5 L355.00,244.4 L355.25,244.0 L355.50,245.7 L355.75,245.0 L356.00,245.4 L356.25,245.0 L356.50,246.8 L356.75,247.0 L357.00,247.1 L357.25,245.4 L357.50,246.3 L357.75,247.0 L358.00,247.2 L358.25,246.2 L358.50,247.5 L358.75,246.7 L359.00,247.0 L359.25,247.5 L359.50,246.9 L359.75,248.1 L360.00,248.0 L360.25,247.6 L360.50,248.3 L360.75,247.3 L361.00,248.1 L361.25,248.3 L361.50,248.5 L361.75,247.8 L362.00,248.0 L362.25,247.8 L362.50,247.8 L362.75,247.7 L363.00,247.5 L363.25,247.9 L363.50,248.5 L363.75,248.2 L364.00,248.6 L364.25,248.8 L364.50,248.2 L364.75,247.9 L365.00,248.7 L365.25,248.5 L365.50,248.5 L365.75,248.0 L366.00,248.2 L366.25,248.1 L366.50,247.9 L366.75,248.4 L367.00,247.9 L367.25,247.8 L367.50,248.9 L367.75,247.7 L368.00,248.0 L368.25,248.8 L368.50,248.4 L368.75,248.2 L369.00,247.8 L369.25,248.5 L369.50,248.2 L369.75,247.8 L370.00,247.9 L370.25,247.7 L370.50,248.4 L370.75,248.1 L371.00,248.7 L371.25,248.0 L371.50,247.9 L371.75,248.1 L372.00,248.0 L372.25,248.7 L372.50,247.8 L372.75,247.7 L373.00,247.7 L373.25,248.3 L373.50,247.9 L373.75,248.6 L374.00,247.8 L374.25,247.9 L374.50,248.5 L374.75,248.9 L375.00,248.4 L375.25,248.3 L375.50,248.0 L375.75,248.4 L376.00,249.0 L376.25,247.9 L376.50,248.9 L376.75,247.9 L377.00,248.8 L377.25,248.6 L377.50,248.0 L377.75,248.8 L378.00,248.8 L378.25,248.3 L378.50,248.0 L378.75,247.9 L379.00,248.1 L379.25,247.7 L379.50,248.3 L379.75,247.7 L380.00,248.9 L380.25,248.7 L380.50,248.3 L380.75,248.6 L381.00,248.0 L381.25,248.2 L381.50,248.3 L381.75,247.9 L382.00,248.3 L382.25,248.6 L382.50,248.5 L382.75,247.9 L383.00,247.8 L383.25,248.7 L383.50,247.9 L383.75,247.7 L384.00,248.3 L384.25,248.2 L384.50,248.7 L384.75,248.3 L385.00,248.3 L385.25,248.2 L385.50,249.0 L385.75,247.7 L386.00,248.3 L386.25,248.5 L386.50,247.9 L386.75,248.3 L387.00,248.3 L387.25,248.1 L387.50,248.9 L387.75,248.3 L388.00,248.5 L388.25,247.7 L388.50,247.8 L388.75,248.6 L389.00,248.4 L389.25,248.8 L389.50,248.4 L389.75,247.9 L390.00,247.8 L390.25,248.4 L390.50,248.6 L390.75,248.7 L391.00,248.2 L391.25,247.8 L391.50,248.8 L391.75,248.0 L392.00,249.0 L392.25,248.7 L392.50,248.7 L392.75,248.1 L393.00,248.6 L393.25,248.5 L393.50,248.2 L393.75,248.9 L394.00,248.0 L394.25,248.8 L394.50,248.3 L394.75,248.7 L395.00,248.7 L395.25,248.3 L395.50,248.4 L395.75,248.5 L396.00,248.5 L396.25,248.3 L396.50,248.8 L396.75,248.7 L397.00,248.2 L397.25,248.2 L397.50,248.3 L397.75,247.9 L398.00,248.2 L398.25,247.9 L398.50,248.7 L398.75,248.0 L399.00,247.9 L399.25,247.8 L399.50,248.6 L399.75,248.6 L400.00,247.8" fill="none" stroke="#111111" stroke-width="1.05" stroke-linejoin="round" opacity="1"/>
<path d="M357.00,247.7 L357.25,247.4 L357.50,247.3 L357.75,247.7 L358.00,247.7 L358.25,247.2 L358.50,247.2 L358.75,246.6 L359.00,246.5 L359.25,246.4 L359.50,247.7 L359.75,247.0 L360.00,245.9 L360.25,245.5 L360.50,245.0 L360.75,244.1 L361.00,243.9 L361.25,244.6 L361.50,243.6 L361.75,243.9 L362.00,244.9 L362.25,243.1 L362.50,243.5 L362.75,243.5 L363.00,240.5 L363.25,241.5 L363.50,242.6 L363.75,241.7 L364.00,238.0 L364.25,241.0 L364.50,239.1 L364.75,238.7 L365.00,238.3 L365.25,237.5 L365.50,238.5 L365.75,237.8 L366.00,236.6 L366.25,236.2 L366.50,233.4 L366.75,231.1 L367.00,234.7 L367.25,231.0 L367.50,233.0 L367.75,231.4 L368.00,229.4 L368.25,227.4 L368.50,227.4 L368.75,231.2 L369.00,220.4 L369.25,223.0 L369.50,222.4 L369.75,217.5 L370.00,219.2 L370.25,219.9 L370.50,212.9 L370.75,211.4 L371.00,213.3 L371.25,206.6 L371.50,206.2 L371.75,209.1 L372.00,198.2 L372.25,201.1 L372.50,204.0 L372.75,196.9 L373.00,196.2 L373.25,191.5 L373.50,197.9 L373.75,187.7 L374.00,186.3 L374.25,185.5 L374.50,184.2 L374.75,179.9 L375.00,180.6 L375.25,181.4 L375.50,183.7 L375.75,174.6 L376.00,173.8 L376.25,175.2 L376.50,174.6 L376.75,171.1 L377.00,183.4 L377.25,170.6 L377.50,181.5 L377.75,169.1 L378.00,164.8 L378.25,160.4 L378.50,169.8 L378.75,165.3 L379.00,166.8 L379.25,175.6 L379.50,162.3 L379.75,165.2 L380.00,164.4 L380.25,168.5 L380.50,164.3 L380.75,163.5 L381.00,158.0 L381.25,162.2 L381.50,148.0 L381.75,165.1 L382.00,164.4 L382.25,163.4 L382.50,166.7 L382.75,156.4 L383.00,160.2 L383.25,168.7 L383.50,162.6 L383.75,158.0 L384.00,169.4 L384.25,162.5 L384.50,164.2 L384.75,152.9 L385.00,161.4 L385.25,165.1 L385.50,165.9 L385.75,155.3 L386.00,165.9 L386.25,154.2 L386.50,171.5 L386.75,166.0 L387.00,166.9 L387.25,169.7 L387.50,168.4 L387.75,165.6 L388.00,172.6 L388.25,177.1 L388.50,167.0 L388.75,168.3 L389.00,178.9 L389.25,176.9 L389.50,190.4 L389.75,178.5 L390.00,190.0 L390.25,189.6 L390.50,182.3 L390.75,197.5 L391.00,195.8 L391.25,202.4 L391.50,207.9 L391.75,208.5 L392.00,207.1 L392.25,214.7 L392.50,215.5 L392.75,214.8 L393.00,220.1 L393.25,225.6 L393.50,221.5 L393.75,227.3 L394.00,227.0 L394.25,234.2 L394.50,231.1 L394.75,238.4 L395.00,240.6 L395.25,240.0 L395.50,241.3 L395.75,241.7 L396.00,243.4 L396.25,242.1 L396.50,241.5 L396.75,243.9 L397.00,244.8 L397.25,243.8 L397.50,242.5 L397.75,242.6 L398.00,244.0 L398.25,244.8 L398.50,243.8 L398.75,242.9 L399.00,244.7 L399.25,242.7 L399.50,243.9 L399.75,243.9 L400.00,245.0 L400.25,243.0 L400.50,244.4 L400.75,246.1 L401.00,243.8 L401.25,245.1 L401.50,243.7 L401.75,244.7 L402.00,245.5 L402.25,244.9 L402.50,245.5 L402.75,245.9 L403.00,245.2 L403.25,244.5 L403.50,245.3 L403.75,245.5 L404.00,246.0 L404.25,245.0 L404.50,245.4 L404.75,244.8 L405.00,245.4 L405.25,244.0 L405.50,247.2 L405.75,245.9 L406.00,245.5 L406.25,245.3 L406.50,247.3 L406.75,247.1 L407.00,246.2 L407.25,245.4 L407.50,245.4 L407.75,247.5 L408.00,246.2 L408.25,245.5 L408.50,246.4 L408.75,247.3 L409.00,247.1 L409.25,247.5 L409.50,245.7 L409.75,246.8 L410.00,247.0 L410.25,247.3 L410.50,246.8 L410.75,246.4 L411.00,246.5 L411.25,246.6 L411.50,246.8 L411.75,246.7 L412.00,246.5 L412.25,246.7 L412.50,246.9 L412.75,246.3 L413.00,246.7 L413.25,246.1 L413.50,246.4 L413.75,246.6 L414.00,246.2 L414.25,246.1 L414.50,246.6 L414.75,246.7 L415.00,246.3 L415.25,247.4 L415.50,246.2 L415.75,247.5 L416.00,246.4 L416.25,247.2 L416.50,246.8 L416.75,246.7 L417.00,246.8 L417.25,245.6 L417.50,246.6 L417.75,245.3 L418.00,245.5 L418.25,246.1 L418.50,245.2 L418.75,244.6 L419.00,244.0 L419.25,245.2 L419.50,243.1 L419.75,244.1 L420.00,243.3 L420.25,245.8 L420.50,245.3 L420.75,242.9 L421.00,244.3 L421.25,243.4 L421.50,242.6 L421.75,245.3 L422.00,243.2 L422.25,241.6 L422.50,242.8 L422.75,243.5 L423.00,243.0 L423.25,243.7 L423.50,242.9 L423.75,242.4 L424.00,244.1 L424.25,243.3 L424.50,243.7 L424.75,243.4 L425.00,243.4 L425.25,245.5 L425.50,243.4 L425.75,243.9 L426.00,246.0 L426.25,245.3 L426.50,246.6 L426.75,245.7 L427.00,245.3 L427.25,246.8 L427.50,246.6 L427.75,246.8 L428.00,246.9 L428.25,247.1 L428.50,247.4 L428.75,246.2 L429.00,246.7 L429.25,246.3 L429.50,246.8 L429.75,246.6 L430.00,246.9 L430.25,246.8 L430.50,247.1 L430.75,247.4 L431.00,247.5 L431.25,247.4 L431.50,247.4 L431.75,247.4 L432.00,248.1 L432.25,248.2 L432.50,248.2 L432.75,248.3 L433.00,248.4 L433.25,248.5 L433.50,248.3 L433.75,248.5 L434.00,248.0 L434.25,248.1 L434.50,247.8 L434.75,247.9 L435.00,248.1 L435.25,247.9 L435.50,248.7 L435.75,248.6 L436.00,248.0 L436.25,248.4 L436.50,248.6 L436.75,248.2 L437.00,248.5 L437.25,248.4 L437.50,248.6 L437.75,248.6 L438.00,248.8 L438.25,248.3 L438.50,248.0 L438.75,248.0 L439.00,248.2 L439.25,248.1 L439.50,248.6 L439.75,248.6 L440.00,248.1 L440.25,248.4 L440.50,248.3 L440.75,248.9 L441.00,248.7 L441.25,248.5 L441.50,248.3 L441.75,248.2 L442.00,248.3 L442.25,248.6 L442.50,248.6 L442.75,248.2 L443.00,248.1 L443.25,248.5 L443.50,248.8 L443.75,248.4 L444.00,248.5 L444.25,248.6 L444.50,248.8 L444.75,248.6 L445.00,248.4 L445.25,248.9 L445.50,248.5 L445.75,248.1 L446.00,248.3 L446.25,248.8 L446.50,248.6 L446.75,248.9 L447.00,248.3 L447.25,248.4 L447.50,248.8 L447.75,248.5 L448.00,248.5 L448.25,248.5 L448.50,248.7 L448.75,248.7 L449.00,248.7 L449.25,248.1 L449.50,248.7 L449.75,248.5 L450.00,248.6 L450.25,248.8 L450.50,248.6 L450.75,248.8 L451.00,248.7 L451.25,248.7 L451.50,248.7 L451.75,248.2 L452.00,248.7" fill="none" stroke="#e03a62" stroke-width="0.95" stroke-linejoin="round" opacity="1"/>
<path d="M382.00,247.9 L382.25,247.4 L382.50,247.4 L382.75,247.2 L383.00,247.7 L383.25,247.6 L383.50,247.6 L383.75,247.5 L384.00,246.9 L384.25,247.4 L384.50,246.9 L384.75,247.1 L385.00,247.0 L385.25,246.7 L385.50,246.2 L385.75,246.3 L386.00,246.8 L386.25,246.4 L386.50,246.4 L386.75,245.5 L387.00,247.2 L387.25,245.6 L387.50,247.3 L387.75,245.8 L388.00,247.6 L388.25,245.2 L388.50,245.8 L388.75,244.3 L389.00,245.6 L389.25,244.4 L389.50,245.5 L389.75,244.8 L390.00,243.3 L390.25,244.3 L390.50,242.7 L390.75,241.3 L391.00,241.1 L391.25,241.2 L391.50,245.2 L391.75,242.1 L392.00,242.6 L392.25,240.7 L392.50,241.0 L392.75,240.5 L393.00,240.8 L393.25,238.6 L393.50,237.6 L393.75,239.1 L394.00,237.7 L394.25,239.0 L394.50,235.9 L394.75,236.6 L395.00,234.7 L395.25,235.9 L395.50,234.0 L395.75,233.3 L396.00,231.5 L396.25,232.5 L396.50,230.8 L396.75,233.3 L397.00,233.8 L397.25,231.5 L397.50,226.2 L397.75,226.8 L398.00,226.8 L398.25,223.2 L398.50,221.7 L398.75,222.2 L399.00,225.7 L399.25,220.6 L399.50,218.9 L399.75,216.5 L400.00,222.7 L400.25,217.3 L400.50,218.4 L400.75,214.1 L401.00,216.5 L401.25,213.7 L401.50,213.6 L401.75,207.3 L402.00,210.5 L402.25,208.9 L402.50,209.3 L402.75,208.9 L403.00,207.4 L403.25,205.9 L403.50,203.8 L403.75,201.3 L404.00,202.4 L404.25,198.7 L404.50,195.0 L404.75,196.1 L405.00,195.6 L405.25,192.5 L405.50,190.1 L405.75,192.7 L406.00,192.1 L406.25,188.2 L406.50,186.1 L406.75,187.6 L407.00,181.9 L407.25,181.6 L407.50,180.3 L407.75,177.2 L408.00,177.9 L408.25,177.5 L408.50,172.4 L408.75,175.3 L409.00,173.8 L409.25,175.4 L409.50,169.8 L409.75,169.2 L410.00,168.7 L410.25,169.8 L410.50,162.3 L410.75,160.6 L411.00,165.5 L411.25,169.8 L411.50,162.0 L411.75,162.7 L412.00,160.7 L412.25,170.4 L412.50,160.9 L412.75,160.7 L413.00,163.5 L413.25,163.4 L413.50,167.8 L413.75,160.9 L414.00,155.5 L414.25,163.5 L414.50,159.8 L414.75,163.6 L415.00,161.1 L415.25,165.4 L415.50,164.7 L415.75,168.0 L416.00,166.7 L416.25,168.6 L416.50,175.4 L416.75,164.5 L417.00,172.3 L417.25,172.2 L417.50,171.1 L417.75,179.7 L418.00,179.0 L418.25,180.3 L418.50,176.9 L418.75,177.5 L419.00,178.2 L419.25,180.1 L419.50,182.4 L419.75,187.6 L420.00,186.8 L420.25,191.8 L420.50,192.1 L420.75,191.9 L421.00,193.4 L421.25,203.2 L421.50,196.2 L421.75,199.1 L422.00,201.5 L422.25,204.4 L422.50,204.6 L422.75,204.8 L423.00,209.5 L423.25,205.6 L423.50,211.9 L423.75,210.9 L424.00,212.2 L424.25,213.5 L424.50,209.6 L424.75,214.3 L425.00,214.9 L425.25,220.0 L425.50,217.9 L425.75,220.1 L426.00,223.3 L426.25,223.5 L426.50,227.1 L426.75,222.4 L427.00,226.8 L427.25,224.8 L427.50,228.7 L427.75,231.1 L428.00,230.7 L428.25,228.1 L428.50,234.5 L428.75,231.1 L429.00,232.0 L429.25,236.5 L429.50,234.7 L429.75,236.1 L430.00,235.7 L430.25,234.7 L430.50,237.0 L430.75,236.8 L431.00,237.5 L431.25,236.0 L431.50,238.4 L431.75,237.6 L432.00,238.5 L432.25,236.8 L432.50,244.5 L432.75,240.7 L433.00,242.8 L433.25,243.6 L433.50,243.8 L433.75,242.9 L434.00,243.9 L434.25,243.3 L434.50,244.1 L434.75,245.1 L435.00,241.2 L435.25,245.2 L435.50,244.6 L435.75,244.8 L436.00,246.1 L436.25,245.2 L436.50,245.6 L436.75,245.9 L437.00,245.3 L437.25,245.7 L437.50,246.6 L437.75,245.7 L438.00,246.3 L438.25,245.8 L438.50,246.2 L438.75,246.6 L439.00,246.9 L439.25,246.8 L439.50,246.5 L439.75,247.0 L440.00,247.4 L440.25,247.3 L440.50,247.3 L440.75,247.7 L441.00,247.4 L441.25,248.0 L441.50,247.3 L441.75,248.0 L442.00,248.1 L442.25,247.7 L442.50,248.0 L442.75,247.5 L443.00,247.9 L443.25,247.9 L443.50,247.6 L443.75,248.3 L444.00,247.8 L444.25,247.9 L444.50,248.2 L444.75,247.7 L445.00,248.6 L445.25,247.8 L445.50,248.6 L445.75,247.9 L446.00,248.6 L446.25,248.7 L446.50,248.3 L446.75,247.9 L447.00,248.6 L447.25,248.3 L447.50,248.2 L447.75,248.6 L448.00,248.3 L448.25,248.9 L448.50,248.4 L448.75,248.1 L449.00,248.6 L449.25,248.7 L449.50,248.9 L449.75,248.2 L450.00,248.5" fill="none" stroke="#92e048" stroke-width="0.95" stroke-linejoin="round" opacity="1"/>
<path d="M405.00,248.8 L405.25,248.2 L405.50,248.2 L405.75,247.9 L406.00,248.6 L406.25,248.6 L406.50,248.1 L406.75,248.2 L407.00,248.5 L407.25,248.1 L407.50,248.4 L407.75,248.0 L408.00,248.6 L408.25,248.5 L408.50,247.8 L408.75,248.3 L409.00,248.4 L409.25,247.8 L409.50,248.0 L409.75,248.4 L410.00,248.0 L410.25,247.9 L410.50,248.3 L410.75,247.8 L411.00,248.3 L411.25,248.0 L411.50,248.3 L411.75,248.1 L412.00,247.3 L412.25,247.8 L412.50,247.2 L412.75,247.7 L413.00,247.4 L413.25,247.1 L413.50,247.3 L413.75,247.8 L414.00,247.2 L414.25,247.1 L414.50,247.5 L414.75,247.6 L415.00,246.7 L415.25,247.0 L415.50,247.3 L415.75,246.9 L416.00,247.1 L416.25,246.4 L416.50,246.7 L416.75,247.0 L417.00,246.2 L417.25,246.9 L417.50,246.6 L417.75,246.8 L418.00,246.0 L418.25,246.6 L418.50,246.1 L418.75,246.5 L419.00,246.0 L419.25,246.8 L419.50,247.2 L419.75,247.1 L420.00,246.0 L420.25,247.1 L420.50,245.8 L420.75,245.4 L421.00,245.6 L421.25,245.9 L421.50,244.4 L421.75,245.7 L422.00,246.0 L422.25,245.1 L422.50,244.9 L422.75,246.0 L423.00,245.9 L423.25,246.3 L423.50,247.7 L423.75,246.4 L424.00,245.4 L424.25,247.5 L424.50,246.6 L424.75,245.9 L425.00,245.1 L425.25,245.4 L425.50,244.8 L425.75,246.5 L426.00,245.8 L426.25,246.1 L426.50,245.8 L426.75,246.9 L427.00,244.0 L427.25,246.6 L427.50,246.5 L427.75,245.6 L428.00,246.5 L428.25,246.3 L428.50,246.2 L428.75,246.1 L429.00,246.3 L429.25,245.7 L429.50,246.4 L429.75,246.4 L430.00,246.2 L430.25,245.9 L430.50,246.6 L430.75,246.2 L431.00,246.7 L431.25,246.5 L431.50,246.6 L431.75,246.3 L432.00,246.6 L432.25,246.9 L432.50,246.6 L432.75,247.2 L433.00,247.2 L433.25,246.7 L433.50,247.2 L433.75,247.0 L434.00,247.5 L434.25,247.0 L434.50,247.3 L434.75,247.8 L435.00,247.1 L435.25,247.6 L435.50,247.8 L435.75,247.9 L436.00,248.2 L436.25,248.1 L436.50,247.6 L436.75,248.2 L437.00,248.2 L437.25,248.0 L437.50,247.9 L437.75,248.1 L438.00,247.8 L438.25,248.3 L438.50,248.2 L438.75,248.2 L439.00,248.5 L439.25,248.5 L439.50,248.6 L439.75,248.0 L440.00,248.6 L440.25,248.1 L440.50,248.5 L440.75,248.1 L441.00,248.1 L441.25,248.4 L441.50,247.9 L441.75,248.1 L442.00,248.2 L442.25,248.8 L442.50,248.4 L442.75,248.5 L443.00,248.3 L443.25,247.8 L443.50,247.9 L443.75,248.7 L444.00,248.0 L444.25,247.7 L444.50,248.1 L444.75,248.5 L445.00,247.7 L445.25,248.1 L445.50,247.5 L445.75,247.5 L446.00,247.5 L446.25,247.3 L446.50,248.0 L446.75,247.2 L447.00,247.6 L447.25,247.6 L447.50,247.2 L447.75,246.8 L448.00,247.3 L448.25,246.6 L448.50,246.0 L448.75,246.1 L449.00,245.9 L449.25,246.7 L449.50,245.9 L449.75,244.8 L450.00,245.2 L450.25,245.2 L450.50,245.5 L450.75,240.3 L451.00,243.3 L451.25,242.4 L451.50,238.6 L451.75,239.2 L452.00,242.1 L452.25,239.4 L452.50,240.6 L452.75,240.0 L453.00,237.5 L453.25,236.7 L453.50,236.3 L453.75,232.5 L454.00,230.9 L454.25,232.2 L454.50,234.8 L454.75,228.7 L455.00,230.3 L455.25,227.5 L455.50,229.3 L455.75,225.4 L456.00,225.2 L456.25,226.1 L456.50,220.7 L456.75,219.8 L457.00,221.5 L457.25,220.3 L457.50,222.1 L457.75,216.0 L458.00,212.0 L458.25,205.9 L458.50,208.7 L458.75,211.0 L459.00,206.1 L459.25,206.5 L459.50,203.6 L459.75,201.4 L460.00,197.9 L460.25,198.8 L460.50,190.4 L460.75,195.1 L461.00,191.7 L461.25,188.2 L461.50,192.3 L461.75,181.7 L462.00,184.1 L462.25,185.6 L462.50,187.4 L462.75,181.6 L463.00,186.4 L463.25,182.7 L463.50,179.2 L463.75,190.7 L464.00,192.3 L464.25,188.1 L464.50,186.9 L464.75,190.7 L465.00,191.5 L465.25,189.6 L465.50,186.4 L465.75,181.1 L466.00,181.7 L466.25,182.1 L466.50,171.1 L466.75,168.4 L467.00,161.5 L467.25,162.5 L467.50,161.1 L467.75,157.0 L468.00,163.2 L468.25,159.1 L468.50,170.0 L468.75,168.4 L469.00,171.1 L469.25,180.1 L469.50,185.0 L469.75,185.6 L470.00,187.7 L470.25,184.5 L470.50,188.6 L470.75,189.2 L471.00,191.5 L471.25,193.5 L471.50,193.7 L471.75,192.2 L472.00,193.5 L472.25,196.1 L472.50,201.5 L472.75,204.5 L473.00,201.3 L473.25,207.2 L473.50,208.3 L473.75,211.7 L474.00,205.6 L474.25,214.2 L474.50,214.3 L474.75,211.0 L475.00,225.4 L475.25,218.8 L475.50,219.8 L475.75,223.2 L476.00,218.4 L476.25,223.8 L476.50,224.7 L476.75,227.1 L477.00,229.7 L477.25,229.2 L477.50,232.4 L477.75,234.3 L478.00,232.1 L478.25,232.5 L478.50,233.9 L478.75,239.2 L479.00,236.7 L479.25,238.5 L479.50,239.9 L479.75,239.1 L480.00,243.1 L480.25,241.5 L480.50,240.7 L480.75,242.5 L481.00,242.1 L481.25,243.9 L481.50,245.3 L481.75,245.3 L482.00,245.3 L482.25,244.9 L482.50,246.8 L482.75,246.1 L483.00,245.8 L483.25,246.7 L483.50,246.5 L483.75,247.0 L484.00,246.6 L484.25,247.5 L484.50,247.3 L484.75,247.3 L485.00,247.4 L485.25,247.8 L485.50,247.2 L485.75,246.9 L486.00,247.6 L486.25,247.1 L486.50,247.7 L486.75,247.8 L487.00,247.6 L487.25,247.1 L487.50,247.3 L487.75,247.5 L488.00,248.1 L488.25,247.8 L488.50,248.2 L488.75,248.2 L489.00,247.9 L489.25,248.1 L489.50,248.2 L489.75,247.8 L490.00,247.6 L490.25,247.5 L490.50,247.5 L490.75,248.0 L491.00,248.3 L491.25,247.5 L491.50,248.0 L491.75,248.1 L492.00,247.7 L492.25,248.0 L492.50,247.6 L492.75,247.8 L493.00,247.6 L493.25,248.4 L493.50,247.6 L493.75,248.1 L494.00,247.9 L494.25,248.3 L494.50,248.4 L494.75,248.4 L495.00,248.5 L495.25,247.7 L495.50,248.6 L495.75,248.4 L496.00,248.1 L496.25,248.5 L496.50,248.5 L496.75,248.5 L497.00,248.5 L497.25,248.7 L497.50,248.0 L497.75,248.1 L498.00,248.5 L498.25,247.9 L498.50,248.2 L498.75,248.6 L499.00,247.8 L499.25,248.6 L499.50,248.0 L499.75,248.0 L500.00,248.8" fill="none" stroke="#4a74dc" stroke-width="0.95" stroke-linejoin="round" opacity="1"/>
<path d="M296.8,249.2 L296.8,27.4 L515.1,27.4 L515.1,249.2" fill="none" stroke="#555" stroke-width="1.4"/>
<line x1="296.3" y1="249.2" x2="515.8" y2="249.2" stroke="#5a6a20" stroke-width="1.3" stroke-linecap="butt"/>
<text transform="translate(294.6,42.1) scale(1.045,1)" font-size="14" text-anchor="end" font-weight="normal" fill="#111" stroke="#111" stroke-width="0.2" >200</text>
<text x="294.2" y="249.2" font-size="14" text-anchor="end" font-weight="normal" fill="#111" stroke="#111" stroke-width="0.2" >0</text>
<text transform="translate(506.6,42.4) scale(1.05,1)" font-size="14" text-anchor="end" font-weight="normal" fill="#111" stroke="#111" stroke-width="0.2" >HL60</text>
<text x="371.2" y="61.1" font-size="14" text-anchor="start" font-weight="normal" fill="#111" stroke="#111" stroke-width="0.2" >NANase</text>
<text x="370.8" y="77.2" font-size="14" text-anchor="start" font-weight="normal" fill="#111" stroke="#111" stroke-width="0.2" >+ 30 mM TDG</text>
<text x="370.8" y="93.5" font-size="14" text-anchor="start" font-weight="normal" fill="#111" stroke="#111" stroke-width="0.2" >+ Gal-4</text>
<text x="300.8" y="99.0" font-size="14" text-anchor="start" font-weight="normal" fill="#111" stroke="#111" stroke-width="0.2" >Untreated</text>
<text x="400.6" y="122.7" font-size="14" text-anchor="start" font-weight="normal" fill="#111" stroke="#111" stroke-width="0.2" >Gal-4</text>
<text x="459.2" y="98.7" font-size="14" text-anchor="start" font-weight="normal" fill="#111" stroke="#111" stroke-width="0.2" >NANase</text>
<text x="460.2" y="114.1" font-size="14" text-anchor="start" font-weight="normal" fill="#111" stroke="#111" stroke-width="0.2" >+ Gal-4</text>
<line x1="329.5" y1="103.6" x2="330.3" y2="111.9" stroke="#555" stroke-width="1.3" stroke-linecap="round"/>
<path d="M333.6,135.8 L331.4,131.6 L335.3,131.6 Z" fill="#111"/>
<line x1="389.6" y1="98.4" x2="382.9" y2="139.6" stroke="#d03050" stroke-width="1.4" stroke-linecap="round"/>
<path d="M381.9,145.0 L380.6,139.5 L384.8,140.1 Z" fill="#e0203f"/>
<line x1="415.1" y1="128.4" x2="414.5" y2="144.2" stroke="#98cc60" stroke-width="1.3" stroke-linecap="round"/>
<path d="M414.2,149.6 L412.2,144.3 L416.4,144.3 Z" fill="#7ee020"/>
<line x1="476.2" y1="121.8" x2="476.2" y2="125.4" stroke="#6070a0" stroke-width="1.3" stroke-linecap="round"/>
<path d="M473.4,150.6 L471.8,144.4 L475.5,144.4 Z" fill="#2030a8"/>
<text x="286.4" y="266.6" font-size="14" text-anchor="start" font-weight="normal" fill="#111" stroke="#111" stroke-width="0.2" >10</text>
<text x="302.79999999999995" y="262.6" font-size="14" text-anchor="start" font-weight="normal" fill="#111" stroke="#111" stroke-width="0.2" >0</text>
<text x="335.6" y="266.6" font-size="14" text-anchor="start" font-weight="normal" fill="#111" stroke="#111" stroke-width="0.2" >10</text>
<text x="352.0" y="262.6" font-size="14" text-anchor="start" font-weight="normal" fill="#111" stroke="#111" stroke-width="0.2" >1</text>
<text x="386.9" y="266.6" font-size="14" text-anchor="start" font-weight="normal" fill="#111" stroke="#111" stroke-width="0.2" >10</text>
<text x="403.29999999999995" y="262.6" font-size="14" text-anchor="start" font-weight="normal" fill="#111" stroke="#111" stroke-width="0.2" >2</text>
<text x="437.7" y="266.6" font-size="14" text-anchor="start" font-weight="normal" fill="#111" stroke="#111" stroke-width="0.2" >10</text>
<text x="454.09999999999997" y="262.6" font-size="14" text-anchor="start" font-weight="normal" fill="#111" stroke="#111" stroke-width="0.2" >3</text>
<text x="488.0" y="266.6" font-size="14" text-anchor="start" font-weight="normal" fill="#111" stroke="#111" stroke-width="0.2" >10</text>
<text x="504.4" y="262.6" font-size="14" text-anchor="start" font-weight="normal" fill="#111" stroke="#111" stroke-width="0.2" >4</text>
<text x="0.6" y="312.4" font-size="29.5" text-anchor="start" font-weight="bold" fill="#000" >C</text>
<path d="M64.7,541 L64.7,316.5 L250.8,316.5 L250.8,541" fill="none" stroke="#444" stroke-width="1.5"/>
<line x1="60.2" y1="540.8" x2="64.7" y2="540.8" stroke="#444444" stroke-width="1.3" stroke-linecap="butt"/>
<text x="60.3" y="546.4" font-size="14" text-anchor="end" font-weight="normal" fill="#111" stroke="#111" stroke-width="0.2" >0</text>
<line x1="60.2" y1="508.0799999999999" x2="64.7" y2="508.0799999999999" stroke="#444444" stroke-width="1.3" stroke-linecap="butt"/>
<text x="60.3" y="513.68" font-size="14" text-anchor="end" font-weight="normal" fill="#111" stroke="#111" stroke-width="0.2" >10</text>
<line x1="60.2" y1="475.35999999999996" x2="64.7" y2="475.35999999999996" stroke="#444444" stroke-width="1.3" stroke-linecap="butt"/>
<text x="60.3" y="480.96" font-size="14" text-anchor="end" font-weight="normal" fill="#111" stroke="#111" stroke-width="0.2" >20</text>
<line x1="60.2" y1="442.64" x2="64.7" y2="442.64" stroke="#444444" stroke-width="1.3" stroke-linecap="butt"/>
<text x="60.3" y="448.24" font-size="14" text-anchor="end" font-weight="normal" fill="#111" stroke="#111" stroke-width="0.2" >30</text>
<line x1="60.2" y1="409.91999999999996" x2="64.7" y2="409.91999999999996" stroke="#444444" stroke-width="1.3" stroke-linecap="butt"/>
<text x="60.3" y="415.52" font-size="14" text-anchor="end" font-weight="normal" fill="#111" stroke="#111" stroke-width="0.2" >40</text>
<line x1="60.2" y1="377.19999999999993" x2="64.7" y2="377.19999999999993" stroke="#444444" stroke-width="1.3" stroke-linecap="butt"/>
<text x="60.3" y="382.79999999999995" font-size="14" text-anchor="end" font-weight="normal" fill="#111" stroke="#111" stroke-width="0.2" >50</text>
<line x1="60.2" y1="344.47999999999996" x2="64.7" y2="344.47999999999996" stroke="#444444" stroke-width="1.3" stroke-linecap="butt"/>
<text x="60.3" y="350.08" font-size="14" text-anchor="end" font-weight="normal" fill="#111" stroke="#111" stroke-width="0.2" >60</text>
<line x1="158.4" y1="345.2" x2="158.4" y2="541" stroke="#666" stroke-width="1.1" stroke-linecap="butt"/>
<text x="94.9" y="360.8" font-size="14.5" text-anchor="start" font-weight="normal" fill="#111" stroke="#111" stroke-width="0.2" >HL60</text>
<text x="175.9" y="361.0" font-size="14.5" text-anchor="start" font-weight="normal" fill="#111" stroke="#111" stroke-width="0.2" >MOLT-4</text>
<rect x="71.95" y="526.35" width="20.099999999999994" height="14.649999999999977" fill="#fff" stroke="#000" stroke-width="1.3"/>
<line x1="82.0" y1="521.6" x2="82.0" y2="528.6" stroke="#111" stroke-width="1.2" stroke-linecap="butt"/>
<line x1="79.7" y1="521.6" x2="84.3" y2="521.6" stroke="#111" stroke-width="1.3" stroke-linecap="butt"/>
<line x1="79.7" y1="528.6" x2="84.3" y2="528.6" stroke="#111" stroke-width="1.3" stroke-linecap="butt"/>
<rect x="99.95" y="486.04999999999995" width="19.499999999999986" height="54.950000000000045" fill="#737373" stroke="#000" stroke-width="1.3"/>
<line x1="109.69999999999999" y1="480.3" x2="109.69999999999999" y2="490.4" stroke="#111" stroke-width="1.2" stroke-linecap="butt"/>
<line x1="107.39999999999999" y1="480.3" x2="111.99999999999999" y2="480.3" stroke="#111" stroke-width="1.3" stroke-linecap="butt"/>
<line x1="107.39999999999999" y1="490.4" x2="111.99999999999999" y2="490.4" stroke="#111" stroke-width="1.3" stroke-linecap="butt"/>
<rect x="128.65" y="398.15" width="19.69999999999999" height="142.85000000000002" fill="#000" stroke="#000" stroke-width="1.3"/>
<line x1="138.5" y1="390.2" x2="138.5" y2="400" stroke="#111" stroke-width="1.2" stroke-linecap="butt"/>
<line x1="136.2" y1="390.2" x2="140.8" y2="390.2" stroke="#111" stroke-width="1.3" stroke-linecap="butt"/>
<line x1="136.2" y1="400" x2="140.8" y2="400" stroke="#111" stroke-width="1.3" stroke-linecap="butt"/>
<rect x="164.55" y="532.65" width="18.599999999999994" height="8.350000000000023" fill="#fff" stroke="#000" stroke-width="1.3"/>
<line x1="173.85000000000002" y1="529.3" x2="173.85000000000002" y2="535" stroke="#111" stroke-width="1.2" stroke-linecap="butt"/>
<line x1="171.55" y1="529.3" x2="176.15000000000003" y2="529.3" stroke="#111" stroke-width="1.3" stroke-linecap="butt"/>
<line x1="171.55" y1="535" x2="176.15000000000003" y2="535" stroke="#111" stroke-width="1.3" stroke-linecap="butt"/>
<rect x="189.75" y="461.45" width="19.599999999999994" height="79.55000000000001" fill="#737373" stroke="#000" stroke-width="1.3"/>
<line x1="199.55" y1="455.5" x2="199.55" y2="466.4" stroke="#111" stroke-width="1.2" stroke-linecap="butt"/>
<line x1="197.25" y1="455.5" x2="201.85000000000002" y2="455.5" stroke="#111" stroke-width="1.3" stroke-linecap="butt"/>
<line x1="197.25" y1="466.4" x2="201.85000000000002" y2="466.4" stroke="#111" stroke-width="1.3" stroke-linecap="butt"/>
<rect x="216.35" y="386.15" width="19.599999999999994" height="154.85000000000002" fill="#000" stroke="#000" stroke-width="1.3"/>
<line x1="226.14999999999998" y1="379.2" x2="226.14999999999998" y2="388" stroke="#111" stroke-width="1.2" stroke-linecap="butt"/>
<line x1="223.84999999999997" y1="379.2" x2="228.45" y2="379.2" stroke="#111" stroke-width="1.3" stroke-linecap="butt"/>
<line x1="223.84999999999997" y1="388" x2="228.45" y2="388" stroke="#111" stroke-width="1.3" stroke-linecap="butt"/>
<line x1="64" y1="541" x2="251.5" y2="541" stroke="#111" stroke-width="1.5" stroke-linecap="butt"/>
<text x="39.3" y="443.0" font-size="14.7" text-anchor="middle" fill="#111" stroke="#111" stroke-width="0.2" transform="rotate(-90 39.3 443.0)">% Cells Annexin V<tspan dy="-5.6" font-size="12">+</tspan><tspan dy="5.6">/PI</tspan><tspan dy="-6" font-size="11">-</tspan></text>
<text x="270.8" y="312.4" font-size="29.5" text-anchor="start" font-weight="bold" fill="#000" >D</text>
<path d="M303.1,541 L303.1,315.6 L492,315.6 L492,541" fill="none" stroke="#444" stroke-width="1.5"/>
<line x1="297.7" y1="541.0" x2="303.1" y2="541.0" stroke="#444444" stroke-width="1.3" stroke-linecap="butt"/>
<text transform="translate(297.0,546.6) scale(1.04,1)" font-size="14" text-anchor="end" font-weight="normal" fill="#111" stroke="#111" stroke-width="0.2" >0</text>
<line x1="297.7" y1="501.4" x2="303.1" y2="501.4" stroke="#444444" stroke-width="1.3" stroke-linecap="butt"/>
<text transform="translate(297.0,507.0) scale(1.04,1)" font-size="14" text-anchor="end" font-weight="normal" fill="#111" stroke="#111" stroke-width="0.2" >20</text>
<line x1="297.7" y1="461.8" x2="303.1" y2="461.8" stroke="#444444" stroke-width="1.3" stroke-linecap="butt"/>
<text transform="translate(297.0,467.40000000000003) scale(1.04,1)" font-size="14" text-anchor="end" font-weight="normal" fill="#111" stroke="#111" stroke-width="0.2" >40</text>
<line x1="297.7" y1="422.2" x2="303.1" y2="422.2" stroke="#444444" stroke-width="1.3" stroke-linecap="butt"/>
<text transform="translate(297.0,427.8) scale(1.04,1)" font-size="14" text-anchor="end" font-weight="normal" fill="#111" stroke="#111" stroke-width="0.2" >60</text>
<line x1="297.7" y1="382.6" x2="303.1" y2="382.6" stroke="#444444" stroke-width="1.3" stroke-linecap="butt"/>
<text transform="translate(297.0,388.20000000000005) scale(1.04,1)" font-size="14" text-anchor="end" font-weight="normal" fill="#111" stroke="#111" stroke-width="0.2" >80</text>
<line x1="297.7" y1="343.0" x2="303.1" y2="343.0" stroke="#444444" stroke-width="1.3" stroke-linecap="butt"/>
<text transform="translate(297.0,348.6) scale(1.04,1)" font-size="14" text-anchor="end" font-weight="normal" fill="#111" stroke="#111" stroke-width="0.2" >100</text>
<line x1="393.4" y1="345" x2="393.4" y2="541" stroke="#666" stroke-width="1.1" stroke-linecap="butt"/>
<text x="331.3" y="359.6" font-size="14.5" text-anchor="start" font-weight="normal" fill="#111" stroke="#111" stroke-width="0.2" >HL60</text>
<text x="414.6" y="360.8" font-size="14.5" text-anchor="start" font-weight="normal" fill="#111" stroke="#111" stroke-width="0.2" >MOLT-4</text>
<rect x="309.04999999999995" y="530.25" width="19.90000000000009" height="10.75" fill="#fff" stroke="#000" stroke-width="1.3"/>
<line x1="319.0" y1="527.5" x2="319.0" y2="531.5" stroke="#111" stroke-width="1.2" stroke-linecap="butt"/>
<line x1="316.7" y1="527.5" x2="321.3" y2="527.5" stroke="#111" stroke-width="1.3" stroke-linecap="butt"/>
<line x1="316.7" y1="531.5" x2="321.3" y2="531.5" stroke="#111" stroke-width="1.3" stroke-linecap="butt"/>
<rect x="337.04999999999995" y="451.75" width="18.500000000000057" height="89.25" fill="#737373" stroke="#000" stroke-width="1.3"/>
<line x1="346.29999999999995" y1="439.3" x2="346.29999999999995" y2="463.6" stroke="#111" stroke-width="1.2" stroke-linecap="butt"/>
<line x1="343.99999999999994" y1="439.3" x2="348.59999999999997" y2="439.3" stroke="#111" stroke-width="1.3" stroke-linecap="butt"/>
<line x1="343.99999999999994" y1="463.6" x2="348.59999999999997" y2="463.6" stroke="#111" stroke-width="1.3" stroke-linecap="butt"/>
<rect x="365.65" y="389.84999999999997" width="18.900000000000034" height="151.15000000000003" fill="#000" stroke="#000" stroke-width="1.3"/>
<line x1="375.1" y1="387.8" x2="375.1" y2="391" stroke="#111" stroke-width="1.2" stroke-linecap="butt"/>
<line x1="372.8" y1="387.8" x2="377.40000000000003" y2="387.8" stroke="#111" stroke-width="1.3" stroke-linecap="butt"/>
<line x1="372.8" y1="391" x2="377.40000000000003" y2="391" stroke="#111" stroke-width="1.3" stroke-linecap="butt"/>
<rect x="403.45" y="536.4499999999999" width="20.30000000000001" height="4.550000000000068" fill="#fff" stroke="#000" stroke-width="1.3"/>
<line x1="413.6" y1="534" x2="413.6" y2="537.5" stroke="#111" stroke-width="1.2" stroke-linecap="butt"/>
<line x1="411.3" y1="534" x2="415.90000000000003" y2="534" stroke="#111" stroke-width="1.3" stroke-linecap="butt"/>
<line x1="411.3" y1="537.5" x2="415.90000000000003" y2="537.5" stroke="#111" stroke-width="1.3" stroke-linecap="butt"/>
<rect x="432.84999999999997" y="464.54999999999995" width="20.000000000000057" height="76.45000000000005" fill="#737373" stroke="#000" stroke-width="1.3"/>
<line x1="442.85" y1="450.4" x2="442.85" y2="476.7" stroke="#111" stroke-width="1.2" stroke-linecap="butt"/>
<line x1="440.55" y1="450.4" x2="445.15000000000003" y2="450.4" stroke="#111" stroke-width="1.3" stroke-linecap="butt"/>
<line x1="440.55" y1="476.7" x2="445.15000000000003" y2="476.7" stroke="#111" stroke-width="1.3" stroke-linecap="butt"/>
<rect x="459.84999999999997" y="370.04999999999995" width="20.000000000000057" height="170.95000000000005" fill="#000" stroke="#000" stroke-width="1.3"/>
<line x1="302.5" y1="541" x2="492.7" y2="541" stroke="#111" stroke-width="1.5" stroke-linecap="butt"/>
<rect x="1.6" y="547.7" width="490.2" height="58.5" fill="none" stroke="#666" stroke-width="1.3"/>
<text transform="translate(56.4,562.9) scale(1.02,1)" font-size="14" text-anchor="end" font-weight="normal" fill="#111" stroke="#111" stroke-width="0.2" >NANase</text>
<text x="56.4" y="580.8" font-size="14" text-anchor="end" font-weight="normal" fill="#111" stroke="#111" stroke-width="0.2" >Gal-2</text>
<text x="56.4" y="599.8" font-size="14" text-anchor="end" font-weight="normal" fill="#111" stroke="#111" stroke-width="0.2" >Gal-4</text>
<text transform="translate(81.4,564.8) scale(1.05,1)" font-size="14" text-anchor="middle" font-weight="normal" fill="#111" stroke="#111" stroke-width="0.35" >-</text>
<text transform="translate(109.4,564.8) scale(1.05,1)" font-size="14" text-anchor="middle" font-weight="normal" fill="#111" stroke="#111" stroke-width="0.35" >-</text>
<text x="138.3" y="564.8" font-size="14" text-anchor="middle" font-weight="normal" fill="#111" stroke="#111" stroke-width="0.2" >+</text>
<text transform="translate(173.2,564.8) scale(1.05,1)" font-size="14" text-anchor="middle" font-weight="normal" fill="#111" stroke="#111" stroke-width="0.35" >-</text>
<text transform="translate(199.5,564.8) scale(1.05,1)" font-size="14" text-anchor="middle" font-weight="normal" fill="#111" stroke="#111" stroke-width="0.35" >-</text>
<text x="226.5" y="564.8" font-size="14" text-anchor="middle" font-weight="normal" fill="#111" stroke="#111" stroke-width="0.2" >+</text>
<text transform="translate(319,564.8) scale(1.05,1)" font-size="14" text-anchor="middle" font-weight="normal" fill="#111" stroke="#111" stroke-width="0.35" >-</text>
<text transform="translate(346.5,564.8) scale(1.05,1)" font-size="14" text-anchor="middle" font-weight="normal" fill="#111" stroke="#111" stroke-width="0.35" >-</text>
<text x="375.3" y="564.8" font-size="14" text-anchor="middle" font-weight="normal" fill="#111" stroke="#111" stroke-width="0.2" >+</text>
<text transform="translate(413.5,564.8) scale(1.05,1)" font-size="14" text-anchor="middle" font-weight="normal" fill="#111" stroke="#111" stroke-width="0.35" >-</text>
<text transform="translate(442.8,564.8) scale(1.05,1)" font-size="14" text-anchor="middle" font-weight="normal" fill="#111" stroke="#111" stroke-width="0.35" >-</text>
<text x="470.5" y="564.8" font-size="14" text-anchor="middle" font-weight="normal" fill="#111" stroke="#111" stroke-width="0.2" >+</text>
<text transform="translate(81.4,582.6) scale(1.05,1)" font-size="14" text-anchor="middle" font-weight="normal" fill="#111" stroke="#111" stroke-width="0.35" >-</text>
<text x="109.4" y="582.6" font-size="14" text-anchor="middle" font-weight="normal" fill="#111" stroke="#111" stroke-width="0.2" >+</text>
<text x="138.3" y="582.6" font-size="14" text-anchor="middle" font-weight="normal" fill="#111" stroke="#111" stroke-width="0.2" >+</text>
<text transform="translate(173.2,582.6) scale(1.05,1)" font-size="14" text-anchor="middle" font-weight="normal" fill="#111" stroke="#111" stroke-width="0.35" >-</text>
<text x="199.5" y="582.6" font-size="14" text-anchor="middle" font-weight="normal" fill="#111" stroke="#111" stroke-width="0.2" >+</text>
<text x="226.5" y="582.6" font-size="14" text-anchor="middle" font-weight="normal" fill="#111" stroke="#111" stroke-width="0.2" >+</text>
<text transform="translate(319,582.6) scale(1.05,1)" font-size="14" text-anchor="middle" font-weight="normal" fill="#111" stroke="#111" stroke-width="0.35" >-</text>
<text transform="translate(346.5,582.6) scale(1.05,1)" font-size="14" text-anchor="middle" font-weight="normal" fill="#111" stroke="#111" stroke-width="0.35" >-</text>
<text transform="translate(375.3,582.6) scale(1.05,1)" font-size="14" text-anchor="middle" font-weight="normal" fill="#111" stroke="#111" stroke-width="0.35" >-</text>
<text transform="translate(413.5,582.6) scale(1.05,1)" font-size="14" text-anchor="middle" font-weight="normal" fill="#111" stroke="#111" stroke-width="0.35" >-</text>
<text transform="translate(442.8,582.6) scale(1.05,1)" font-size="14" text-anchor="middle" font-weight="normal" fill="#111" stroke="#111" stroke-width="0.35" >-</text>
<text transform="translate(470.5,582.6) scale(1.05,1)" font-size="14" text-anchor="middle" font-weight="normal" fill="#111" stroke="#111" stroke-width="0.35" >-</text>
<text transform="translate(81.4,600.0) scale(1.05,1)" font-size="14" text-anchor="middle" font-weight="normal" fill="#111" stroke="#111" stroke-width="0.35" >-</text>
<text transform="translate(109.4,600.0) scale(1.05,1)" font-size="14" text-anchor="middle" font-weight="normal" fill="#111" stroke="#111" stroke-width="0.35" >-</text>
<text transform="translate(138.3,600.0) scale(1.05,1)" font-size="14" text-anchor="middle" font-weight="normal" fill="#111" stroke="#111" stroke-width="0.35" >-</text>
<text transform="translate(173.2,600.0) scale(1.05,1)" font-size="14" text-anchor="middle" font-weight="normal" fill="#111" stroke="#111" stroke-width="0.35" >-</text>
<text transform="translate(199.5,600.0) scale(1.05,1)" font-size="14" text-anchor="middle" font-weight="normal" fill="#111" stroke="#111" stroke-width="0.35" >-</text>
<text transform="translate(226.5,600.0) scale(1.05,1)" font-size="14" text-anchor="middle" font-weight="normal" fill="#111" stroke="#111" stroke-width="0.35" >-</text>
<text transform="translate(319,600.0) scale(1.05,1)" font-size="14" text-anchor="middle" font-weight="normal" fill="#111" stroke="#111" stroke-width="0.35" >-</text>
<text x="346.5" y="600.0" font-size="14" text-anchor="middle" font-weight="normal" fill="#111" stroke="#111" stroke-width="0.2" >+</text>
<text x="375.3" y="600.0" font-size="14" text-anchor="middle" font-weight="normal" fill="#111" stroke="#111" stroke-width="0.2" >+</text>
<text transform="translate(413.5,600.0) scale(1.05,1)" font-size="14" text-anchor="middle" font-weight="normal" fill="#111" stroke="#111" stroke-width="0.35" >-</text>
<text x="442.8" y="600.0" font-size="14" text-anchor="middle" font-weight="normal" fill="#111" stroke="#111" stroke-width="0.2" >+</text>
<text x="470.5" y="600.0" font-size="14" text-anchor="middle" font-weight="normal" fill="#111" stroke="#111" stroke-width="0.2" >+</text>
</svg>
</body></html>
